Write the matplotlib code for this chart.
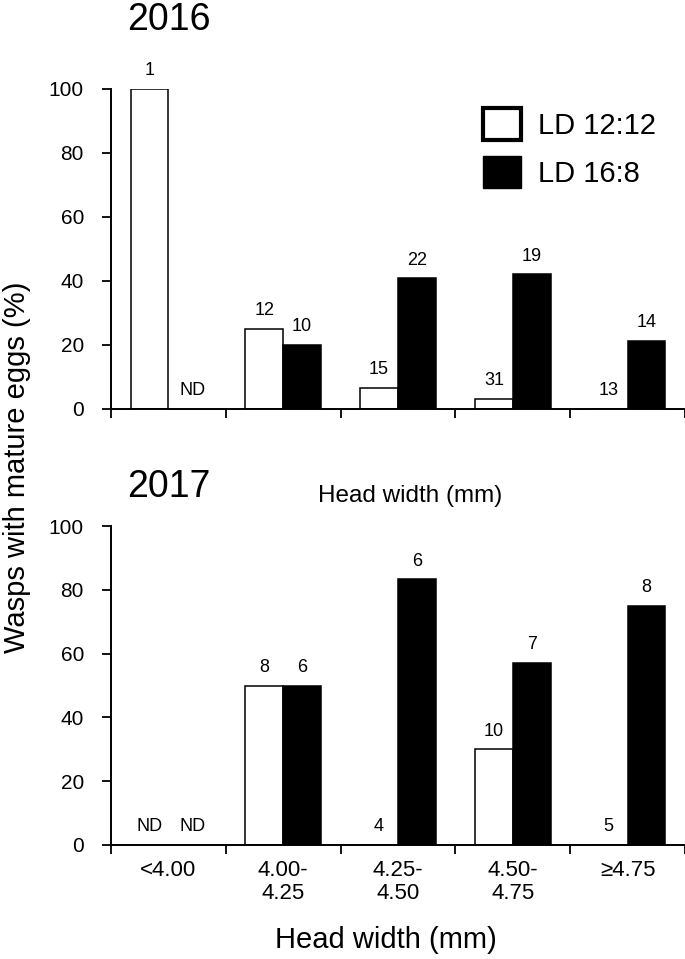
import numpy as np
import matplotlib.pyplot as plt
from matplotlib.patches import Patch

plt.rcParams['font.family'] = ['Liberation Sans', 'DejaVu Sans']

# head width classes
categories = ['<4.00', '4.00-\n4.25', '4.25-\n4.50', '4.50-\n4.75', '\u22654.75']
series = ['LD 12:12', 'LD 16:8']

# % wasps with mature eggs (None = no data)
pct_2016_12 = [100, 25, 6.7, 3.2, 0]
pct_2016_16 = [None, 20, 40.9, 42.1, 21.4]
pct_2017_12 = [None, 50, 0, 30, 0]
pct_2017_16 = [None, 50, 83.3, 57.1, 75]

# sample sizes written above the bars
n_2016_12 = [1, 12, 15, 31, 13]
n_2016_16 = [None, 10, 22, 19, 14]
n_2017_12 = [None, 8, 4, 10, 5]
n_2017_16 = [None, 6, 6, 7, 8]

W, H = 685, 959
fig = plt.figure(figsize=(W / 100, H / 100), dpi=100)

def px_axes(x0, x1, ytop, ybot):
    return fig.add_axes([x0 / W, 1 - ybot / H, (x1 - x0) / W, (ybot - ytop) / H])

ax1 = px_axes(111, 685, 89, 409)
ax2 = px_axes(111, 685, 526, 845)

x = np.arange(len(categories))
bw = 0.33

def draw_panel(ax, p12, p16, n12, n16, year, ty):
    for vals, ns, off, fc in [(p12, n12, -bw / 2, 'white'), (p16, n16, bw / 2, 'black')]:
        for i, (v, n) in enumerate(zip(vals, ns)):
            if v is None:
                ax.annotate('ND', (x[i] + off, 0), xytext=(4 if off > 0 else 0, 13),
                            textcoords='offset points', ha='center', va='center', fontsize=13)
                continue
            ax.bar(x[i] + off, v, bw, color=fc, edgecolor='black', linewidth=1.1)
            ax.annotate(str(n), (x[i] + off, v), xytext=(0, 13),
                        textcoords='offset points', ha='center', va='center', fontsize=13)
    ax.set_xlim(-0.5, 4.5)
    ax.set_ylim(0, 100)
    ax.set_yticks([0, 20, 40, 60, 80, 100])
    ax.set_xticks(np.arange(-0.5, 5, 1))
    ax.set_xticklabels([])
    ax.set_xticks(x, minor=True)
    ax.tick_params(axis='x', which='minor', length=0, labelsize=16, pad=11)
    ax.tick_params(axis='both', which='major', direction='out', length=6.5, width=1.3,
                   labelsize=15)
    ax.tick_params(axis='y', pad=13)
    for s in ['top', 'right']:
        ax.spines[s].set_visible(False)
    for s in ['left', 'bottom']:
        ax.spines[s].set_linewidth(1.4)
    ax.spines['bottom'].set_clip_on(False)
    fig.text(169 / W, 1 - ty / H, year, fontsize=27, ha='center', va='center')

draw_panel(ax1, pct_2016_12, pct_2016_16, n_2016_12, n_2016_16, '2016', 20)
draw_panel(ax2, pct_2017_12, pct_2017_16, n_2017_12, n_2017_16, '2017', 487)

ax2.set_xticklabels(categories, minor=True, linespacing=1.1)

fig.text(410 / W, 1 - 496 / H, 'Head width (mm)', fontsize=17.5, ha='center', va='center')
fig.text(386 / W, 1 - 940 / H, 'Head width (mm)', fontsize=21, ha='center', va='center')
fig.text(17 / W, 1 - 467 / H, 'Wasps with mature eggs (%)', fontsize=21,
         rotation=90, ha='center', va='center')

handles = [Patch(facecolor='white', edgecolor='black', linewidth=3),
           Patch(facecolor='black', edgecolor='black')]
fig.legend(handles, series, loc='upper left', bbox_to_anchor=(483 / W, 1 - 108 / H),
           frameon=False, fontsize=21, handlelength=1.3, handleheight=1.3,
           handletextpad=0.6, labelspacing=0.55, borderpad=0, borderaxespad=0)

fig.savefig('out.png', dpi=100)
